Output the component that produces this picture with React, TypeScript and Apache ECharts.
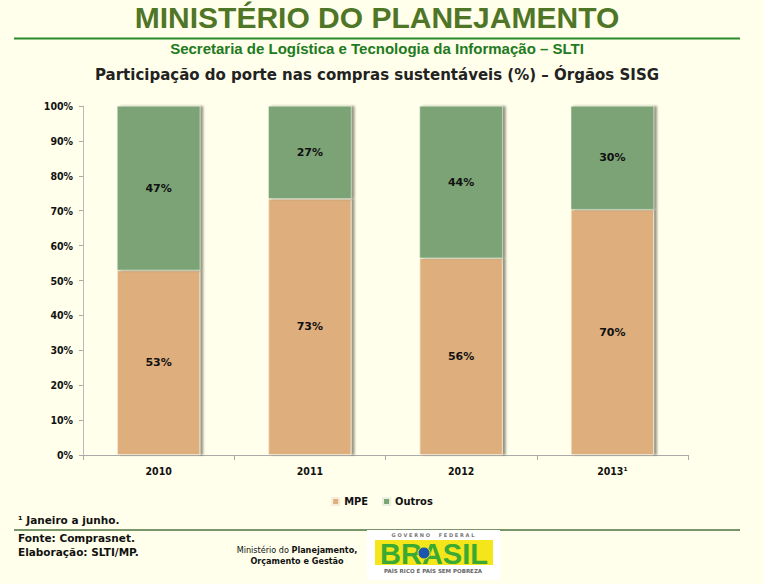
import React, { useEffect, useRef } from "react";
import * as echarts from "echarts";

const categories = ["2010", "2011", "2012", "2013¹"];
const mpeValues = [52.9, 73.4, 56.4, 70.3];
const outrosValues = [47.1, 26.6, 43.6, 29.7];
const yTicks = [0, 10, 20, 30, 40, 50, 60, 70, 80, 90, 100];

const BG = "#FFFFEB";
const FONT = "'DejaVu Sans Condensed', 'DejaVu Sans', sans-serif";

export default function App() {
  const ref = useRef<HTMLDivElement>(null);
  useEffect(() => {
    if (!ref.current) return;
    const chart = echarts.init(ref.current, undefined, { renderer: "svg" });
    const labelStyle = {
      show: true,
      position: "inside",
      fontFamily: "'DejaVu Sans', sans-serif",
      fontWeight: "bold",
      fontSize: 11,
      color: "#111",
      formatter: (p: any) => Math.round(p.value) + "%",
    };
    const shadow = {
      shadowColor: "rgba(60,60,50,0.55)",
      shadowOffsetX: 3,
      shadowOffsetY: 0,
      shadowBlur: 2,
    };
    chart.setOption({
      animation: false,
      backgroundColor: BG,
      grid: { left: 83, right: 76, top: 106, bottom: 129 },
      legend: {
        data: ["MPE", "Outros"],
        bottom: 72,
        left: "center",
        icon: "rect",
        itemWidth: 7,
        itemHeight: 7,
        itemGap: 14,
        textStyle: { fontFamily: FONT, fontWeight: "bold", fontSize: 11, color: "#111" },
      },
      xAxis: {
        type: "category",
        data: categories,
        axisLine: { lineStyle: { color: "#aaa" } },
        axisTick: { show: true, length: 5, lineStyle: { color: "#aaa" } },
        axisLabel: { fontFamily: FONT, fontWeight: "bold", fontSize: 10.5, color: "#111", margin: 10 },
      },
      yAxis: {
        type: "value",
        min: 0,
        max: 100,
        interval: 10,
        splitLine: { show: false },
        axisLine: { show: true, lineStyle: { color: "#bbb" } },
        axisTick: { show: true, length: 4, lineStyle: { color: "#aaa" } },
        axisLabel: {
          fontFamily: FONT,
          fontWeight: "bold",
          fontSize: 10.5,
          color: "#111",
          margin: 10,
          formatter: (v: number) => (yTicks.includes(v) ? v + "%" : ""),
        },
      },
      series: [
        {
          name: "MPE",
          type: "bar",
          stack: "total",
          data: mpeValues,
          barWidth: "55%",
          itemStyle: { color: "#DEAF7D", borderColor: "#f6ecd8", borderWidth: 0.8, ...shadow },
          label: labelStyle,
        },
        {
          name: "Outros",
          type: "bar",
          stack: "total",
          data: outrosValues,
          barWidth: "55%",
          itemStyle: { color: "#7BA374", borderColor: "#e8f0e0", borderWidth: 0.5, ...shadow },
          label: labelStyle,
        },
      ],
      graphic: [
        {
          type: "text",
          x: 377,
          y: 2,
          style: {
            text: "MINISTÉRIO DO PLANEJAMENTO",
            align: "center",
            font: "bold 30px 'Liberation Sans', Arial, sans-serif",
            fill: "#4F7627",
            textShadowColor: "#D8D040",
            textShadowOffsetX: 1,
            textShadowOffsetY: 1,
            textShadowBlur: 0,
          },
        },
        {
          type: "line",
          shape: { x1: 14, y1: 38.5, x2: 740, y2: 38.5 },
          style: { stroke: "#2A8A2A", lineWidth: 2 },
        },
        {
          type: "text",
          x: 377,
          y: 41,
          style: {
            text: "Secretaria de Logística e Tecnologia da Informação – SLTI",
            align: "center",
            font: "bold 15px 'Liberation Sans', Arial, sans-serif",
            fill: "#217A21",
          },
        },
        {
          type: "text",
          x: 377,
          y: 67,
          style: {
            text: "Participação do porte nas compras sustentáveis (%) – Órgãos SISG",
            align: "center",
            font: "bold 15px 'DejaVu Sans', sans-serif",
            fill: "#222",
          },
        },
        {
          type: "text",
          left: 18,
          top: 514,
          style: { text: "¹ Janeiro a junho.", font: "bold 10.5px 'DejaVu Sans', sans-serif", fill: "#111" },
        },
        {
          type: "line",
          shape: { x1: 14, y1: 530, x2: 740, y2: 530 },
          style: { stroke: "#78966A", lineWidth: 2 },
        },
        {
          type: "text",
          left: 18,
          top: 532,
          style: { text: "Fonte: Comprasnet.", font: "bold 10.5px 'DejaVu Sans', sans-serif", fill: "#111" },
        },
        {
          type: "text",
          left: 18,
          top: 546,
          style: { text: "Elaboração: SLTI/MP.", font: "bold 10.5px 'DejaVu Sans', sans-serif", fill: "#111" },
        },
        {
          type: "text",
          x: 297,
          y: 544,
          style: {
            text: "{r|Ministério do }{b|Planejamento,}\n{b|Orçamento e Gestão}",
            align: "center",
            verticalAlign: "top",
            lineHeight: 11,
            rich: {
              r: { font: "9px 'DejaVu Sans Condensed', 'DejaVu Sans', sans-serif", fill: "#111" },
              b: { font: "bold 9px 'DejaVu Sans Condensed', 'DejaVu Sans', sans-serif", fill: "#111" },
            },
          },
        },
        {
          type: "group",
          x: 367,
          y: 530,
          children: [
            { type: "rect", shape: { x: 0, y: 0, width: 133, height: 50 }, style: { fill: "#FFFFFF" } },
            {
              type: "text",
              x: 66,
              y: 2,
              style: {
                text: "G O V E R N O     F E D E R A L",
                align: "center",
                font: "bold 5px 'DejaVu Sans', sans-serif",
                fill: "#777",
              },
            },
            { type: "rect", shape: { x: 8, y: 10, width: 118, height: 25 }, style: { fill: "#F4E61A" } },
            {
              type: "text",
              x: 67,
              y: 9,
              style: {
                text: "BRASIL",
                align: "center",
                font: "bold 29px 'Liberation Sans', Arial, sans-serif",
                fill: "#3AAA35",
              },
            },
            { type: "circle", shape: { cx: 57, cy: 23, r: 6 }, style: { fill: "#1A56B0", stroke: "#F4E61A", lineWidth: 1 } },
            {
              type: "text",
              x: 66,
              y: 38,
              style: {
                text: "PAÍS RICO É PAÍS SEM POBREZA",
                align: "center",
                font: "bold 5.5px 'DejaVu Sans', sans-serif",
                fill: "#666",
              },
            },
          ],
        },
      ],
    });
    return () => chart.dispose();
  }, []);
  return (
    <div
      ref={ref}
      style={{ position: "absolute", left: 0, top: 0, width: 764, height: 584, background: BG }}
    />
  );
}
